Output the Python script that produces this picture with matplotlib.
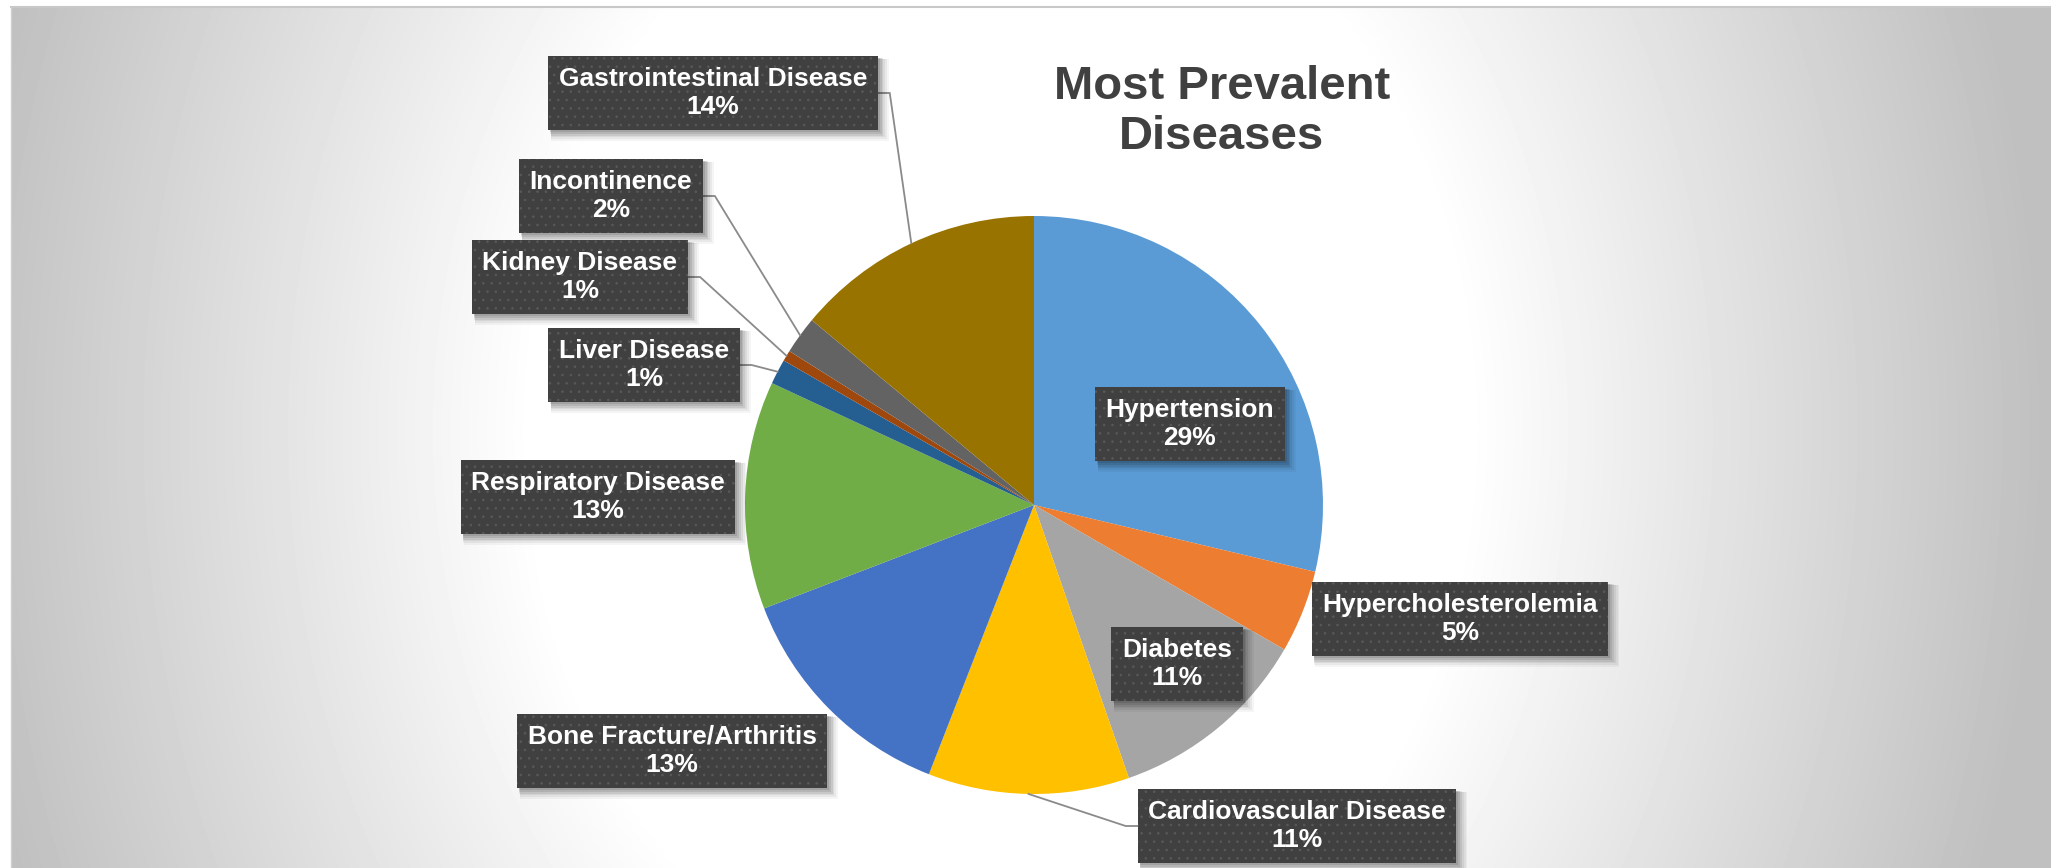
import numpy as np
import matplotlib
matplotlib.use('Agg')
import matplotlib.pyplot as plt
from matplotlib.patches import Rectangle

# ---------------- data ----------------
categories = ['Hypertension', 'Hypercholesterolemia', 'Diabetes',
              'Cardiovascular Disease', 'Bone Fracture/Arthritis',
              'Respiratory Disease', 'Liver Disease', 'Kidney Disease',
              'Incontinence', 'Gastrointestinal Disease']
shares = [28.6, 4.6, 11.3, 11.2, 13.2, 12.7, 1.4, 0.6, 2.1, 13.9]
colors = ['#5B9BD5', '#ED7D31', '#A5A5A5', '#FFC000', '#4472C4',
          '#70AD47', '#255E91', '#9E480E', '#636363', '#997300']
title = 'Most Prevalent\nDiseases'

# ---------------- layout (pixels, y measured from top) ----------------
W, H = 2051, 868
CX, CY, R = 1034, 505, 289
label_pos = {
    'Hypertension': (1190, 424),
    'Hypercholesterolemia': (1460, 619),
    'Diabetes': (1177, 664),
    'Cardiovascular Disease': (1297, 826),
    'Bone Fracture/Arthritis': (672, 751),
    'Respiratory Disease': (598, 497),
    'Liver Disease': (644, 365),
    'Kidney Disease': (580, 277),
    'Incontinence': (611, 196),
    'Gastrointestinal Disease': (713, 93),
}
leader_side = {
    'Gastrointestinal Disease': 'right',
    'Incontinence': 'right',
    'Kidney Disease': 'right',
    'Liver Disease': 'right',
    'Cardiovascular Disease': 'left',
}

FONT = ['Liberation Sans', 'DejaVu Sans']
plt.rcParams['hatch.linewidth'] = 0.6

fig = plt.figure(figsize=(W / 100, H / 100), dpi=100, facecolor='white')
ax = fig.add_axes([0, 0, 1, 1])

# background radial gradient (wide, mostly horizontal)
bx0, btop = 11, 7
yy, xx = np.mgrid[btop:H, bx0:W].astype(float)
gcx, gcy = 1000, 430
d = np.sqrt(((xx - gcx) / 1040) ** 2 + ((yy - gcy) / 1300) ** 2)
t = np.clip((d - 0.45) / 0.55, 0, 1)
gray = (255 - 63 * t) / 255.0
ax.imshow(gray, extent=(bx0, W, 0, H - btop), cmap='gray', vmin=0, vmax=1,
          origin='upper', zorder=0, interpolation='bilinear')
ax.plot([bx0, W], [H - btop, H - btop], color='#c8c8c8', lw=1.5, zorder=1)
ax.plot([bx0, bx0], [0, H - btop], color='#d0d0d0', lw=1.0, zorder=1)

# pie
wedges, _ = ax.pie(shares, colors=colors, startangle=90, counterclock=False,
                   center=(CX, H - CY), radius=R,
                   wedgeprops=dict(linewidth=0), frame=False)
for w in wedges:
    w.set_zorder(2)

ax.set_aspect('auto')
ax.set_xlim(0, W)
ax.set_ylim(0, H)
ax.axis('off')

total = sum(shares)
texts = {}
for name, val in zip(categories, shares):
    pct = f'{round(val / total * 100):.0f}%'
    x, y = label_pos[name]
    tx = ax.text(x, H - y, f'{name}\n{pct}', ha='center', va='center',
                 color='white', fontsize=19, fontweight='bold', family=FONT,
                 linespacing=1.25, zorder=6,
                 bbox=dict(boxstyle='square,pad=0.4', facecolor='#404040',
                           edgecolor='#595959', linewidth=0, hatch='..'))
    texts[name] = tx

ax.text(1222, H - 112, title, ha='center', va='center', fontsize=34,
        fontweight='bold', color='#404040', family=FONT, linespacing=1.2,
        zorder=6)

# box shadows and leader lines
fig.canvas.draw()
renderer = fig.canvas.get_renderer()
inv = ax.transData.inverted()
for name in categories:
    bb = texts[name].get_bbox_patch().get_window_extent(renderer)
    (x0, y0), (x1, y1) = inv.transform([[bb.x0, bb.y0], [bb.x1, bb.y1]])
    for k, a in zip(range(6), (0.10, 0.09, 0.08, 0.06, 0.05, 0.04)):
        off = 2 + k
        grow = k * 0.8
        ax.add_patch(Rectangle((x0 + off - grow, y0 - off - grow),
                               (x1 - x0) + 2 * grow, (y1 - y0) + 2 * grow,
                               facecolor='black', edgecolor='none', alpha=a,
                               zorder=4))

for w, name in zip(wedges, categories):
    if name not in leader_side:
        continue
    bb = texts[name].get_bbox_patch().get_window_extent(renderer)
    (x0, y0), (x1, y1) = inv.transform([[bb.x0, bb.y0], [bb.x1, bb.y1]])
    ym = (y0 + y1) / 2
    if leader_side[name] == 'right':
        xs, xk = x1, x1 + 12
    else:
        xs, xk = x0, x0 - 12
    mid = np.deg2rad((w.theta1 + w.theta2) / 2)
    px = CX + R * np.cos(mid)
    py = (H - CY) + R * np.sin(mid)
    ax.plot([xs, xk, px], [ym, ym, py], color='#8a8a8a', lw=1.3, zorder=3,
            solid_joinstyle='miter')

fig.savefig('out.png', dpi=100, facecolor='white')
